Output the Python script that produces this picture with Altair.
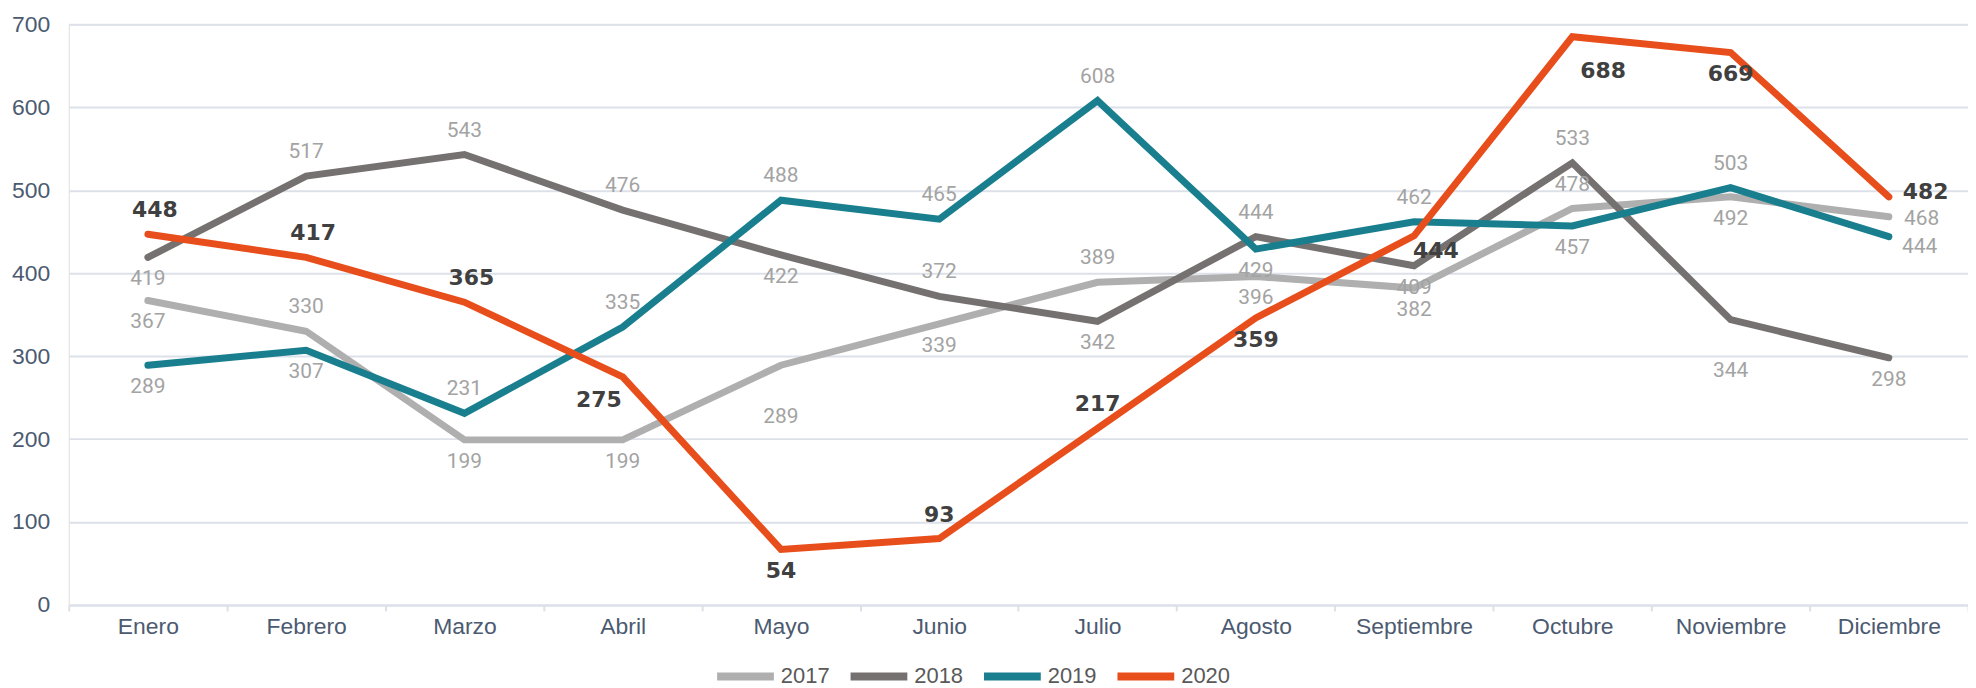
import altair as alt
import pandas as pd

meses = ["Enero", "Febrero", "Marzo", "Abril", "Mayo", "Junio", "Julio",
         "Agosto", "Septiembre", "Octubre", "Noviembre", "Diciembre"]
anios = ["2017", "2018", "2019", "2020"]

v2017 = [367, 330, 199, 199, 289, 339, 389, 396, 382, 478, 492, 468]
v2018 = [419, 517, 543, 476, 422, 372, 342, 444, 409, 533, 344, 298]
v2019 = [289, 307, 231, 335, 488, 465, 608, 429, 462, 457, 503, 444]
# 2020: line as drawn, and the printed data labels
v2020 = [447, 419, 365, 275, 67, 80, 213, 346, 445, 685, 666, 492]
etiquetas_2020 = [448, 417, 365, 275, 54, 93, 217, 359, 444, 688, 669, 482]

# label placement codes
pos_2017 = ["b", "a", "b", "b", "bb", "b", "a", "b", "b", "a", "b", "r"]
pos_2018 = ["b", "a", "a", "a", "b", "a", "b", "a", "b", "a", "bb", "b"]
pos_2019 = ["b", "b", "a", "a", "a", "a", "a", "b", "a", "b", "a", "rb"]
pos_2020 = ["ar", "ar", "ar", "bl", "b", "a", "a", "b", "br", "brr", "b", "ra"]

colores = ["#AFAFAF", "#767171", "#197F8E", "#E84E1B"]

desplaz = {
    "a": (0, -24), "ar": (7, -24), "b": (0, 22), "bb": (0, 52), "r": (33, 2),
    "rb": (31, 10), "ra": (37, -5), "bl": (-24, 23), "br": (22, 15),
    "brr": (31, 34),
}

series = {
    "2017": (v2017, v2017, pos_2017),
    "2018": (v2018, v2018, pos_2018),
    "2019": (v2019, v2019, pos_2019),
    "2020": (v2020, etiquetas_2020, pos_2020),
}
rows = []
for anio, (vals, labs, pos) in series.items():
    for m, v, l, p in zip(meses, vals, labs, pos):
        rows.append({"mes": m, "anio": anio, "valor": v, "etiqueta": str(l), "pos": p})
df = pd.DataFrame(rows)

grid_col = "#DCE1E9"
axis_font = "Liberation Sans, Arial, sans-serif"

x = alt.X("mes:N", sort=meses,
          scale=alt.Scale(paddingInner=0, paddingOuter=0),
          axis=alt.Axis(title=None, labelAngle=0, tickBand="extent", ticks=True,
                        tickSize=6, tickColor=grid_col, tickWidth=2,
                        domainColor=grid_col, domainWidth=2, labelPadding=5,
                        labelFont=axis_font, labelFontSize=23, labelColor="#4B5A70",
                        grid=False))
y = alt.Y("valor:Q",
          scale=alt.Scale(domain=[0, 700], nice=False, zero=True),
          axis=alt.Axis(title=None, values=list(range(0, 701, 100)), ticks=False,
                        tickSize=0, domain=False, labelPadding=19, gridColor=grid_col,
                        gridWidth=2, labelFont=axis_font, labelFontSize=23,
                        labelColor="#4B5A70"))
color = alt.Color("anio:N", scale=alt.Scale(domain=anios, range=colores),
                  legend=alt.Legend(title=None, orient="none", legendX=647, legendY=622,
                                    direction="horizontal", symbolType="stroke",
                                    symbolSize=3249, symbolStrokeWidth=8,
                                    labelFont=axis_font, labelFontSize=22,
                                    labelColor="#595959", labelOffset=3,
                                    columnPadding=5, padding=0))

base = alt.Chart(df)
layers = []
for anio in anios:
    layers.append(
        base.transform_filter(alt.datum.anio == anio)
        .mark_line(strokeWidth=7, strokeCap="round", strokeJoin="miter")
        .encode(x=x, y=y, color=color)
    )

for code, (dx, dy) in desplaz.items():
    layers.append(
        base.transform_filter((alt.datum.pos == code) & (alt.datum.anio != "2020"))
        .mark_text(dx=dx, dy=dy, font="Roboto, sans-serif", fontSize=21,
                   color="#A3A3A3", baseline="middle", align="center")
        .encode(x=x, y=y, text="etiqueta:N")
    )
    layers.append(
        base.transform_filter((alt.datum.pos == code) & (alt.datum.anio == "2020"))
        .mark_text(dx=dx, dy=dy, font="DejaVu Sans, sans-serif", fontSize=22,
                   fontWeight="bold", color="#404040", baseline="middle", align="center")
        .encode(x=x, y=y, text="etiqueta:N")
    )

chart = alt.layer(*layers).properties(
    width=1907, height=583,
    autosize=alt.AutoSizeParams(type="none"),
    padding={"left": 61, "top": 15, "right": 0, "bottom": 82},
).configure_view(stroke=None).configure(background="white")

chart.save("out.html", embed_options={"renderer": "svg", "actions": False})
